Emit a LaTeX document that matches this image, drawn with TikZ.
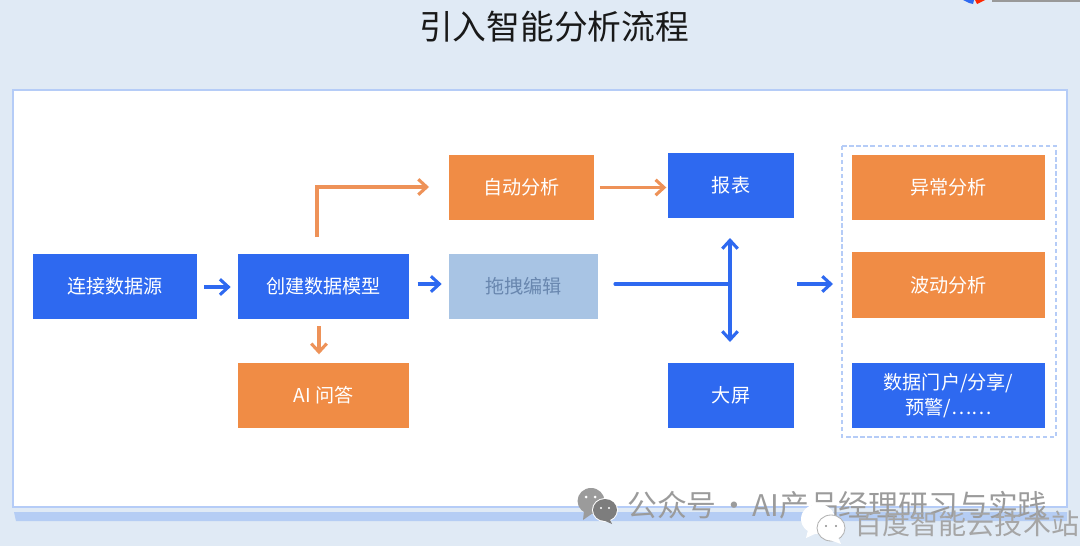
\documentclass[tikz,border=0pt]{standalone}
\usepackage{fontspec}
\setmainfont{Noto Sans CJK SC}
\usetikzlibrary{arrows.meta, calc}

\tikzset{
  box/.style={inner sep=0pt, minimum height=1.625cm, font=\fontsize{13.6}{17.5}\selectfont, text=white, align=center},
  bluebox/.style={box, fill=boxblue},
  orangebox/.style={box, fill=boxorange},
  bluearrow/.style={boxblue, line width=2.2pt, -{Straight Barb[length=6pt, width=11pt, line width=2.2pt]}},
  orangearrow/.style={arroworange, line width=2.2pt, -{Straight Barb[length=6pt, width=11pt, line width=2.2pt]}},
}

\begin{document}
\begin{tikzpicture}[x=0.025cm, y=-0.025cm]
  % 定义颜色
  \definecolor{pagebg}{RGB}{224,234,245}
  \definecolor{panelline}{RGB}{181,204,247}
  \definecolor{shadowband}{RGB}{181,205,244}
  \definecolor{boxblue}{RGB}{46,105,240}
  \definecolor{boxorange}{RGB}{240,140,69}
  \definecolor{arroworange}{RGB}{238,146,88}
  \definecolor{boxlight}{RGB}{168,196,228}
  \definecolor{dragtext}{RGB}{105,135,175}
  \definecolor{marktext}{RGB}{155,155,155}
  \definecolor{markdark}{RGB}{125,125,125}

  % 背景与白色面板
  \fill[pagebg] (0, 0) rectangle (1080, 546);
  \useasboundingbox (0, 0) rectangle (1080, 546);
  \fill[shadowband] (14, 512) -- (1067, 512) -- (1067, 521) -- (16, 521) -- cycle;
  \filldraw[fill=white, draw=panelline, line width=1.4pt] (13, 90) rectangle (1067, 507);

  % 顶部标题与被裁切的标志
  \node[font=\fontsize{24}{28}\selectfont, text=black!90] (Title) at (554, 27) {引入智能分析流程};
  \fill[boxblue] (963, 0) -- (974, 0) -- (973, 4) -- (969, 3) -- cycle;
  \fill[red!70!orange] (975, 0) -- (985, 0) -- (977, 4) -- cycle;
  \fill[black!40] (992, 0) rectangle (1080, 2);

  % 虚线框
  \draw[panelline, line width=1.1pt, densely dashed] (842, 146) rectangle (1056, 437);

  % 各流程方框
  \node[bluebox, minimum width=4.1cm] (Source) at (115, 286.5) {连接数据源};
  \node[bluebox, minimum width=4.275cm] (Model) at (323.5, 286.5) {创建数据模型};
  \node[orangebox, minimum width=4.275cm] (AiAsk) at (323.5, 395.5) {AI 问答};
  \node[orangebox, minimum width=3.625cm] (AutoAnalysis) at (521.5, 187.5) {自动分析};
  \node[box, fill=boxlight, text=dragtext, minimum width=3.725cm] (DragEdit) at (523.5, 286.5) {拖拽编辑};
  \node[bluebox, minimum width=3.15cm] (Report) at (731, 185.5) {报表};
  \node[bluebox, minimum width=3.15cm] (BigScreen) at (731, 395.5) {大屏};
  \node[orangebox, minimum width=4.825cm] (Anomaly) at (948.5, 187.5) {异常分析};
  \node[orangebox, minimum width=4.825cm] (Wave) at (948.5, 285) {波动分析};
  \node[bluebox, minimum width=4.825cm] (Portal) at (948.5, 395.5) {数据门户/分享/\\预警/……};

  % 箭头端点
  \coordinate (ModelUp) at (317, 237);
  \coordinate (AutoIn) at (429, 187);
  \coordinate (SplitStart) at (615, 284);
  \coordinate (Split) at (730, 284);
  \coordinate (SplitUp) at (730, 238);
  \coordinate (SplitDown) at (730, 342);
  \coordinate (OutStart) at (797, 284);
  \coordinate (OutEnd) at (833, 284);

  % 蓝色箭头
  \draw[bluearrow, shorten <=5pt, shorten >=5pt] (Source.east |- 0, 287) -- (Model.west |- 0, 287);
  \draw[bluearrow, shorten <=6pt, shorten >=5pt] (Model.east |- 0, 284) -- (DragEdit.west |- 0, 284);
  \draw[boxblue, line width=2.2pt, line cap=round] (SplitStart) -- (Split);
  \draw[bluearrow, {Straight Barb[length=6pt, width=11pt, line width=2.2pt]}-{Straight Barb[length=6pt, width=11pt, line width=2.2pt]}] (SplitUp) -- (SplitDown);
  \draw[bluearrow] (OutStart) -- (OutEnd);

  % 橙色箭头
  \draw[orangearrow, shorten <=5pt, shorten >=6pt] (Model.south -| 319, 0) -- (AiAsk.north -| 319, 0);
  \draw[orangearrow] (ModelUp) -- (ModelUp |- AutoIn) -- (AutoIn);
  \draw[orangearrow, shorten <=4pt, shorten >=1pt] (AutoAnalysis.east) -- (Report.west |- AutoAnalysis.east);

  % 右下角水印
  \fill[marktext] (591, 501) ellipse (13.5 and 13);
  \fill[marktext] (584, 511) -- (583, 520) -- (593, 513) -- cycle;
  \fill[white] (605, 510) ellipse (13 and 12);
  \fill[markdark] (605, 510) ellipse (12 and 11);
  \fill[markdark] (609, 518) -- (612, 524) -- (603, 520) -- cycle;
  \fill[white] (586, 497) circle (1.5) (595, 497) circle (1.5) (601, 508) circle (1.2) (609, 508) circle (1.2);
  \node[anchor=west, inner sep=0pt, text=marktext, font=\fontsize{21.2}{24}\selectfont] (MarkOne) at (627, 505) {公众号\hspace{0.1em}·\hspace{0.1em}AI产品经理研习与实践};
  \fill[white] (818, 519) ellipse (17 and 15);
  \fill[white] (808, 530) -- (806, 538) -- (817, 533) -- cycle;
  \filldraw[fill=white, draw=black!30, line width=0.6pt] (831, 528) ellipse (14 and 13);
  \fill[white] (838, 537) -- (841, 544) -- (830, 540) -- cycle;
  \fill[black!45] (826, 526) circle (1.2) (836, 526) circle (1.2);
  \node[anchor=west, inner sep=0pt, text=black!35, font=\fontsize{20}{24}\selectfont] (MarkTwo) at (854, 524) {百度智能云技术站};
\end{tikzpicture}
\end{document}
